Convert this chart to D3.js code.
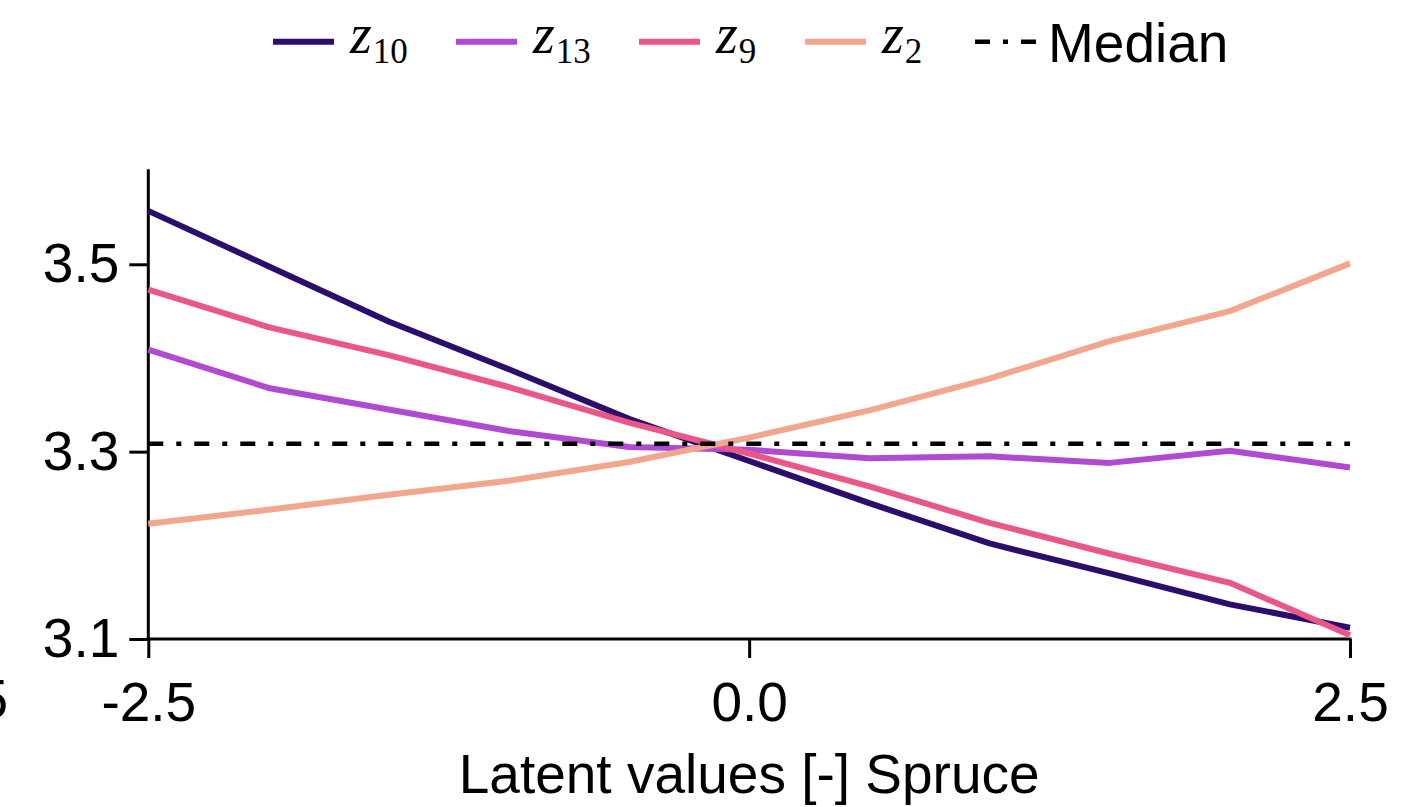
<!DOCTYPE html>
<html>
<head>
<meta charset="utf-8">
<script src="https://cdn.jsdelivr.net/npm/d3@7"></script>
<style>
  html, body { margin: 0; padding: 0; background: #fff; }
  svg { display: block; }
  text { font-family: "Liberation Sans", Arial, Helvetica, sans-serif; fill: #000; }
</style>
</head>
<body>
<svg id="chart" width="1420" height="807"></svg>
<script>
// ---- data ----
const xValues = [-2.5, -2.0, -1.5, -1.0, -0.5, 0.0, 0.5, 1.0, 1.5, 2.0, 2.5];
const z10 = [3.557, 3.498, 3.439, 3.388, 3.335, 3.290, 3.245, 3.202, 3.170, 3.137, 3.112];
const z13 = [3.409, 3.368, 3.345, 3.322, 3.305, 3.302, 3.293, 3.295, 3.288, 3.301, 3.283];
const z9  = [3.473, 3.433, 3.403, 3.369, 3.331, 3.298, 3.263, 3.224, 3.191, 3.160, 3.104];
const z2  = [3.223, 3.238, 3.254, 3.269, 3.289, 3.315, 3.344, 3.378, 3.418, 3.450, 3.501];
const medianValue = 3.3085;
const seriesNames = ["10", "13", "9", "2"];
const seriesColors = ["#2d0d6c", "#b04bd1", "#eb5688", "#f2a68e"];
const xTicks = [-2.5, 0.0, 2.5];
const yTicks = [3.1, 3.3, 3.5];
const xLabel = "Latent values [-] Spruce";
const medianLabel = "Median";

// ---- layout ----
const svg = d3.select("#chart");
const x = d3.scaleLinear().domain([-2.5, 2.5]).range([148.3, 1350]);
const y = d3.scaleLinear().domain([3.1, 3.6014]).range([639, 169.3]);
const fmt = v => v.toFixed(1);
const FS = 55;
const AXW = 3;

const seriesValues = [z10, z13, z9, z2];
const series = seriesNames.map((n, i) => ({
  name: n, color: seriesColors[i],
  pts: xValues.map((xv, j) => [xv, seriesValues[i][j]])
}));

// axes
const yAxis = d3.axisLeft(y).tickValues(yTicks).tickFormat(fmt).tickSize(19).tickPadding(10);
const xAxis = d3.axisBottom(x).tickValues(xTicks).tickFormat(fmt).tickSize(19).tickPadding(24);

const gy = svg.append("g").attr("transform", `translate(${x(-2.5)},0)`).call(yAxis);
const gx = svg.append("g").attr("transform", `translate(0,${y(3.1)})`).call(xAxis);
[gx, gy].forEach(g => {
  g.select(".domain").remove();
  g.selectAll(".tick line").attr("stroke", "#000").attr("stroke-width", AXW);
  g.selectAll(".tick text").attr("font-size", FS).attr("fill", "#000")
    .style("font-family", '"Liberation Sans", Arial, sans-serif');
});
gx.selectAll(".tick text").attr("dy", "0.71em");
// spines
svg.append("line").attr("x1", x(-2.5)).attr("x2", x(-2.5))
  .attr("y1", y.range()[1]).attr("y2", y(3.1) + AXW / 2)
  .attr("stroke", "#000").attr("stroke-width", AXW);
svg.append("line").attr("x1", x(-2.5) - AXW / 2).attr("x2", x(2.5) + AXW / 2)
  .attr("y1", y(3.1)).attr("y2", y(3.1))
  .attr("stroke", "#000").attr("stroke-width", AXW);

// clipped neighbour tick label at left edge
svg.append("text").attr("x", 8).attr("y", 718).attr("text-anchor", "end")
  .attr("font-size", FS).text("-2.5");

// x label
svg.append("text").attr("x", x(0)).attr("y", 793).attr("text-anchor", "middle")
  .attr("font-size", FS).text(xLabel);

// series lines
const line = d3.line().x(d => x(d[0])).y(d => y(d[1]));
series.forEach(s => {
  svg.append("path").datum(s.pts).attr("d", line)
    .attr("fill", "none").attr("stroke", s.color).attr("stroke-width", 6)
    .attr("stroke-linejoin", "round").attr("stroke-linecap", "butt");
});
// median
svg.append("line").attr("x1", x(-2.5)).attr("x2", x(2.5))
  .attr("y1", y(medianValue)).attr("y2", y(medianValue))
  .attr("stroke", "#000").attr("stroke-width", 4.5)
  .attr("stroke-dasharray", "15,13,5,13");

// legend
const legendX = [273, 456, 639, 805, 975];
const legY = 41.7;
const lg = svg.append("g");
series.forEach((s, i) => {
  lg.append("line").attr("x1", legendX[i]).attr("x2", legendX[i] + 61)
    .attr("y1", legY).attr("y2", legY)
    .attr("stroke", s.color).attr("stroke-width", 6);
  const t = lg.append("text").attr("x", legendX[i] + 77).attr("y", 53.3)
    .style("font-family", '"Liberation Serif", "DejaVu Serif", serif');
  t.append("tspan").attr("font-style", "italic").attr("font-size", 56).text("z");
  t.append("tspan").attr("font-size", 35).attr("dy", 10).attr("dx", 1).text(s.name);
});
lg.append("line").attr("x1", legendX[4]).attr("x2", legendX[4] + 61)
  .attr("y1", legY).attr("y2", legY)
  .attr("stroke", "#000").attr("stroke-width", 4.5)
  .attr("stroke-dasharray", "15,13,5,13");
lg.append("text").attr("x", legendX[4] + 73).attr("y", 62)
  .attr("font-size", FS).text(medianLabel);
</script>
</body>
</html>
